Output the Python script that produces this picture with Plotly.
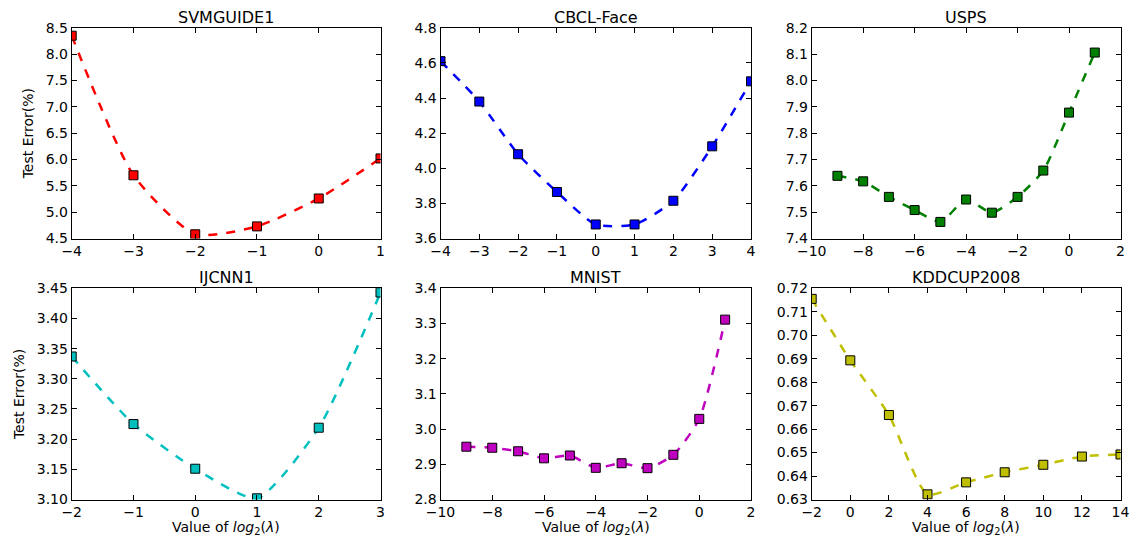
import plotly.graph_objects as go

titles = ["SVMGUIDE1", "CBCL-Face", "USPS", "IJCNN1", "MNIST", "KDDCUP2008"]
colors = ["#FF0000", "#0000FF", "#008000", "#00BFBF", "#BF00BF", "#BFBF00"]

svm_x = [-4, -3, -2, -1, 0, 1]
svm_y = [8.35, 5.70, 4.58, 4.73, 5.26, 6.02]

cbcl_x = [-4, -3, -2, -1, 0, 1, 2, 3, 4]
cbcl_y = [4.61, 4.38, 4.08, 3.865, 3.68, 3.68, 3.815, 4.125, 4.495]

usps_x = [-9, -8, -7, -6, -5, -4, -3, -2, -1, 0, 1]
usps_y = [7.638, 7.617, 7.558, 7.508, 7.463, 7.548, 7.498, 7.558, 7.658, 7.878, 8.106]

ijcnn_x = [-2, -1, 0, 1, 2, 3]
ijcnn_y = [3.337, 3.225, 3.151, 3.102, 3.219, 3.443]

mnist_x = [-9, -8, -7, -6, -5, -4, -3, -2, -1, 0, 1]
mnist_y = [2.950, 2.947, 2.937, 2.917, 2.925, 2.890, 2.903, 2.889, 2.927, 3.029, 3.311]

kdd_x = [-2, 0, 2, 4, 6, 8, 10, 12, 14]
kdd_y = [0.7155, 0.6893, 0.6660, 0.6322, 0.6373, 0.6416, 0.6448, 0.6483, 0.6492]

xs = [svm_x, cbcl_x, usps_x, ijcnn_x, mnist_x, kdd_x]
ys = [svm_y, cbcl_y, usps_y, ijcnn_y, mnist_y, kdd_y]

x_ranges = [[-4, 1], [-4, 4], [-10, 2], [-2, 3], [-10, 2], [-2, 14]]
x_dticks = [1, 1, 2, 1, 2, 2]
y_ranges = [[4.5, 8.5], [3.6, 4.8], [7.4, 8.2], [3.10, 3.45], [2.8, 3.4], [0.63, 0.72]]
y_dticks = [0.5, 0.2, 0.1, 0.05, 0.1, 0.01]
y_formats = [".1f", ".1f", ".1f", ".2f", ".1f", ".2f"]

W, H = 1134, 540
col_px = [(71.7, 380.5), (440.5, 751), (811.7, 1120.5)]
row_px = [(27.8, 238.5), (288.3, 499.5)]

font_family = "DejaVu Sans"
fig = go.Figure()
layout = {}
annotations = []
for i in range(6):
    r, c = divmod(i, 3)
    ax = "" if i == 0 else str(i + 1)
    x0, x1 = col_px[c]
    y0, y1 = row_px[r]
    dx = [x0 / W, x1 / W]
    dy = [1 - y1 / H, 1 - y0 / H]
    fig.add_trace(go.Scatter(
        x=xs[i], y=ys[i], mode="lines+markers",
        line=dict(color=colors[i], width=2.5, dash="dash", shape="spline", smoothing=0.6),
        marker=dict(symbol="square", size=9, color=colors[i], line=dict(color="black", width=1)),
        xaxis="x" + ax, yaxis="y" + ax, showlegend=False,
    ))
    common = dict(showline=True, linecolor="black", linewidth=1, mirror="ticks",
                  ticks="inside", ticklen=5, tickcolor="black", showgrid=False,
                  zeroline=False, automargin=False,
                  tickfont=dict(family=font_family, size=14, color="black"))
    xa = dict(domain=dx, range=x_ranges[i], dtick=x_dticks[i], tick0=0,
              anchor="y" + ax, **common)
    ya = dict(domain=dy, range=y_ranges[i], dtick=y_dticks[i], tick0=0,
              tickformat=y_formats[i], anchor="x" + ax, **common)
    if c == 0:
        ya["title"] = dict(text="Test Error(%)", font=dict(family=font_family, size=14, color="black"), standoff=8)
    layout["xaxis" + ax] = xa
    layout["yaxis" + ax] = ya
    annotations.append(dict(text=titles[i], x=(dx[0] + dx[1]) / 2, y=dy[1], xref="paper", yref="paper",
                            xanchor="center", yanchor="bottom", yshift=-1, showarrow=False,
                            font=dict(family=font_family, size=16, color="black")))
    if r == 1:
        annotations.append(dict(text="Value of <i>log</i><sub>2</sub>(<i>λ</i>)",
                                x=(dx[0] + dx[1]) / 2, y=1 - 528 / H, xref="paper", yref="paper",
                                xanchor="center", yanchor="middle", showarrow=False,
                                font=dict(family=font_family, size=14, color="black")))

fig.update_layout(**layout)
fig.update_layout(width=W, height=H, margin=dict(l=0, r=0, t=0, b=0, autoexpand=False),
                  plot_bgcolor="white", paper_bgcolor="white", annotations=annotations,
                  font=dict(family=font_family))
fig.write_html("out.html", config={"displayModeBar": False},
               post_script="document.body.style.margin='0px';")
